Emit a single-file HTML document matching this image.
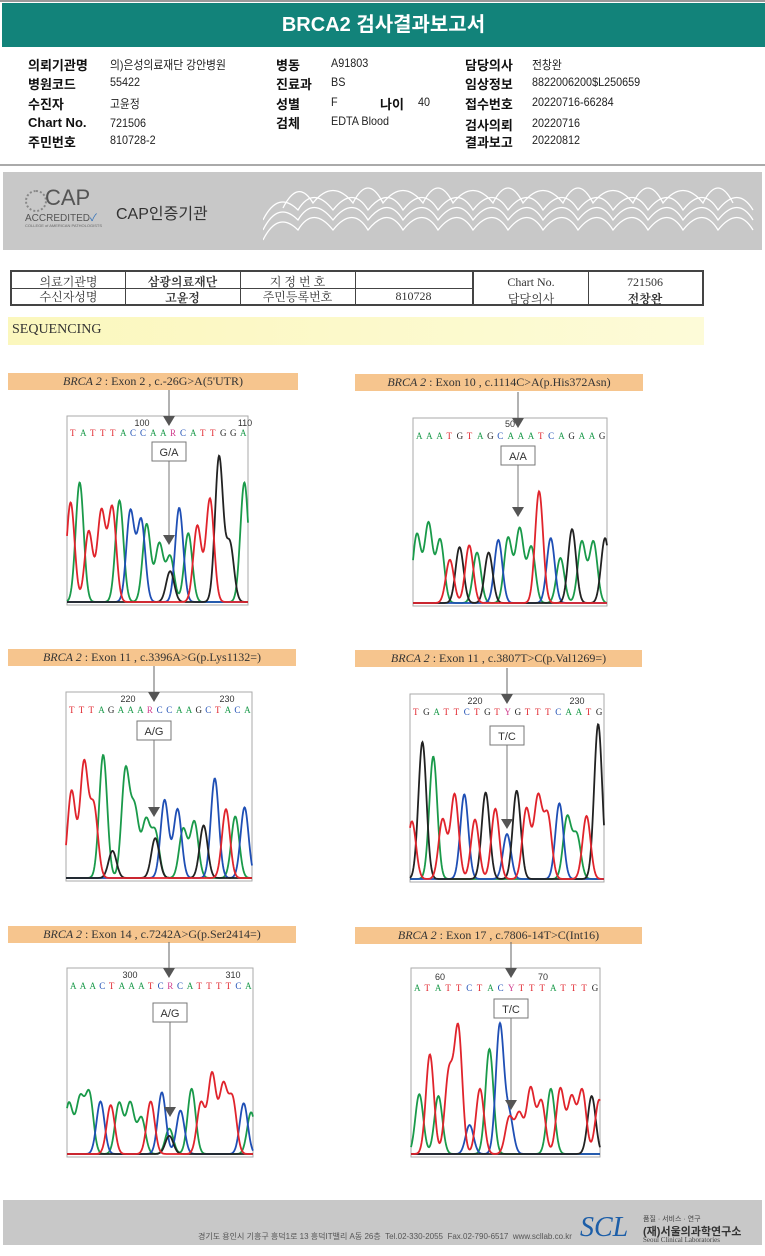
<!DOCTYPE html>
<html><head><meta charset="utf-8">
<style>
body{margin:0;width:765px;height:1256px;position:relative;background:#fff;font-family:"Liberation Sans","Noto Sans CJK KR",sans-serif;overflow:hidden}
.a{position:absolute;white-space:nowrap}
.lb{font-weight:bold;font-size:13px;color:#111}
.vl{font-size:12px;color:#222;transform:scaleX(.9);transform-origin:left}
.tb{position:absolute;left:10px;top:270px;width:690px;height:32px;border:2px solid #444;font-family:"Liberation Serif","Noto Serif CJK SC",serif;font-size:12px;color:#333}
.lab{position:absolute;height:17px;background:#f6c58e;font-family:"Liberation Serif",serif;font-size:12px;color:#333;text-align:center;line-height:17px}
</style></head><body>
<div class="a" style="left:0;top:0;width:765px;height:2px;background:#999"></div>
<div class="a" style="left:2px;top:3px;width:763px;height:44px;background:#12837a;color:#fff;font-weight:bold;font-size:20px;text-align:center;line-height:44px">BRCA2 검사결과보고서</div>

<div>
<div class="a lb" style="left:28px;top:55px">의뢰기관명</div><div class="a vl" style="left:110px;top:56px">의)은성의료재단 강안병원</div>
<div class="a lb" style="left:28px;top:74px">병원코드</div><div class="a vl" style="left:110px;top:75px">55422</div>
<div class="a lb" style="left:28px;top:94px">수진자</div><div class="a vl" style="left:110px;top:95px">고윤정</div>
<div class="a lb" style="left:28px;top:115px">Chart No.</div><div class="a vl" style="left:110px;top:116px">721506</div>
<div class="a lb" style="left:28px;top:132px">주민번호</div><div class="a vl" style="left:110px;top:133px">810728-2</div>
<div class="a lb" style="left:276px;top:55px">병동</div><div class="a vl" style="left:331px;top:56px">A91803</div>
<div class="a lb" style="left:276px;top:74px">진료과</div><div class="a vl" style="left:331px;top:75px">BS</div>
<div class="a lb" style="left:276px;top:94px">성별</div><div class="a vl" style="left:331px;top:95px">F</div>
<div class="a lb" style="left:380px;top:94px">나이</div><div class="a vl" style="left:418px;top:95px">40</div>
<div class="a lb" style="left:276px;top:113px">검체</div><div class="a vl" style="left:331px;top:114px">EDTA Blood</div>
<div class="a lb" style="left:465px;top:55px">담당의사</div><div class="a vl" style="left:532px;top:56px">전창완</div>
<div class="a lb" style="left:465px;top:74px">임상정보</div><div class="a vl" style="left:532px;top:75px">8822006200$L250659</div>
<div class="a lb" style="left:465px;top:94px">접수번호</div><div class="a vl" style="left:532px;top:95px">20220716-66284</div>
<div class="a lb" style="left:465px;top:115px">검사의뢰</div><div class="a vl" style="left:532px;top:116px">20220716</div>
<div class="a lb" style="left:465px;top:132px">결과보고</div><div class="a vl" style="left:532px;top:133px">20220812</div>
</div>

<div class="a" style="left:0;top:164px;width:765px;height:2px;background:#aaa"></div>
<div class="a" style="left:3px;top:172px;width:759px;height:78px;background:#c8c8c8">
  <div class="a" style="left:22px;top:18px;width:18px;height:18px;border:2px dotted #888;border-radius:50%"></div>
  <div class="a" style="left:42px;top:13px;font-size:22px;color:#555">CAP</div>
  <div class="a" style="left:22px;top:37px;font-size:10px;color:#555">ACCREDITED<span style="color:#2a6db8">✓</span></div>
  <div class="a" style="left:22px;top:51px;font-size:4px;color:#666">COLLEGE of AMERICAN PATHOLOGISTS</div>
  <div class="a" style="left:113px;top:28px;font-size:16px;color:#333">CAP인증기관</div>
  <svg class="a" style="left:260px;top:8px" width="495" height="62">
    <g fill="none" stroke="#fff" stroke-width="1.3">
      <path d="M0 40 q15-30 35-10 q15-25 35 0 q20-25 35 0 q20-25 35 0 q20-25 35 0 q20-25 35 0 q20-25 35 0 q20-25 35 0 q20-25 35 0 q20-25 35 0 q20-25 35 0 q20-25 35 0 q20-25 35 0 q20-25 35 0"/>
      <path d="M0 50 q15-30 35-10 q15-25 35 0 q20-25 35 0 q20-25 35 0 q20-25 35 0 q20-25 35 0 q20-25 35 0 q20-25 35 0 q20-25 35 0 q20-25 35 0 q20-25 35 0 q20-25 35 0 q20-25 35 0 q20-25 35 0"/>
      <path d="M0 60 q15-30 35-10 q15-25 35 0 q20-25 35 0 q20-25 35 0 q20-25 35 0 q20-25 35 0 q20-25 35 0 q20-25 35 0 q20-25 35 0 q20-25 35 0 q20-25 35 0 q20-25 35 0 q20-25 35 0 q20-25 35 0"/>
      <path d="M20 28 q15-30 30-5 q20-25 40 0 q15-30 30 0 q20-25 40 0 q15-30 30 0 q20-25 40 0 q15-30 30 0 q20-25 40 0 q15-30 30 0 q20-25 40 0 q15-30 30 0 q20-25 40 0 q15-30 30 0"/>
    </g>
  </svg>
</div>

<div class="tb">
  <div class="a" style="left:113px;top:0;width:1px;height:32px;background:#444"></div>
  <div class="a" style="left:228px;top:0;width:1px;height:32px;background:#444"></div>
  <div class="a" style="left:343px;top:0;width:1px;height:32px;background:#444"></div>
  <div class="a" style="left:460px;top:0;width:2px;height:32px;background:#444"></div>
  <div class="a" style="left:576px;top:0;width:1px;height:32px;background:#444"></div>
  <div class="a" style="left:0;top:16px;width:460px;height:1px;background:#444"></div>
  <div class="a" style="left:0;top:1px;width:113px;text-align:center">의료기관명</div>
  <div class="a" style="left:113px;top:1px;width:115px;text-align:center;font-weight:bold">삼광의료재단</div>
  <div class="a" style="left:228px;top:1px;width:115px;text-align:center">지 정 번 호</div>
  <div class="a" style="left:0;top:16px;width:113px;text-align:center">수신자성명</div>
  <div class="a" style="left:113px;top:17px;width:115px;text-align:center;font-weight:bold">고윤정</div>
  <div class="a" style="left:228px;top:16px;width:115px;text-align:center">주민등록번호</div>
  <div class="a" style="left:343px;top:17px;width:117px;text-align:center">810728</div>
  <div class="a" style="left:462px;top:3px;width:114px;text-align:center">Chart No.</div>
  <div class="a" style="left:576px;top:3px;width:114px;text-align:center">721506</div>
  <div class="a" style="left:462px;top:18px;width:114px;text-align:center">담당의사</div>
  <div class="a" style="left:576px;top:18px;width:114px;text-align:center;font-weight:bold">전창완</div>
</div>

<div class="a" style="left:8px;top:317px;width:692px;height:28px;background:linear-gradient(90deg,#fbf7bd,#fdfbd8);font-family:'Liberation Serif',serif;font-size:14px;color:#333;line-height:26px;padding-left:4px">SEQUENCING</div>

<div class="lab" style="left:8px;top:373px;width:290px"><i>BRCA 2</i> : Exon 2 , c.-26G&gt;A(5'UTR)</div>
<div class="lab" style="left:355px;top:374px;width:288px"><i>BRCA 2</i> : Exon 10 , c.1114C&gt;A(p.His372Asn)</div>
<div class="lab" style="left:8px;top:649px;width:288px"><i>BRCA 2</i> : Exon 11 , c.3396A&gt;G(p.Lys1132=)</div>
<div class="lab" style="left:355px;top:650px;width:287px"><i>BRCA 2</i> : Exon 11 , c.3807T&gt;C(p.Val1269=)</div>
<div class="lab" style="left:8px;top:926px;width:288px"><i>BRCA 2</i> : Exon 14 , c.7242A&gt;G(p.Ser2414=)</div>
<div class="lab" style="left:355px;top:927px;width:287px"><i>BRCA 2</i> : Exon 17 , c.7806-14T&gt;C(Int16)</div>

<svg id="ch" class="a" style="left:0;top:0" width="765" height="1256"></svg>

<div class="a" style="left:3px;top:1200px;width:759px;height:45px;background:#c8c8c8">
  <div class="a" style="left:195px;top:31px;font-size:8px;color:#555">경기도 용인시 기흥구 흥덕1로 13 흥덕IT밸리 A동 26층 &nbsp;Tel.02-330-2055 &nbsp;Fax.02-790-6517 &nbsp;www.scllab.co.kr</div>
  <div class="a" style="left:577px;top:12px;font-family:'Liberation Serif',serif;font-style:italic;font-size:28px;color:#1c5ea8">SCL</div>
  <div class="a" style="left:640px;top:14px;font-size:7px;color:#444">품질 · 서비스 · 연구</div>
  <div class="a" style="left:640px;top:23px;font-size:11px;font-weight:bold;color:#333">(재)서울의과학연구소</div>
  <div class="a" style="left:640px;top:36px;font-family:'Liberation Serif',serif;font-size:7px;color:#444">Seoul Clinical Laboratories</div>
</div>

<script>
// Panel 1: Exon 2
const p1Pos=[0.02,0.07,0.12,0.19,0.25,0.29,0.35,0.41,0.44,0.51,0.57,0.57,0.62,0.67,0.72,0.79,0.84,0.9,0.98];
const p1H=[0.55,0.66,0.39,0.5,0.52,0.56,0.5,0.45,0.43,0.32,0.25,0.17,0.52,0.38,0.42,0.57,0.8,0.32,0.66];
const p1Base=["T","A","T","T","T","A","C","C","A","A","A","G","C","A","T","T","G","G","A"];
// Panel 2: Exon 10
const p2Pos=[0.02,0.08,0.14,0.19,0.24,0.29,0.33,0.39,0.44,0.49,0.55,0.61,0.65,0.71,0.76,0.82,0.87,0.93,0.99];
const p2H=[0.38,0.44,0.35,0.24,0.31,0.32,0.28,0.28,0.35,0.36,0.41,0.31,0.62,0.36,0.25,0.41,0.34,0.34,0.36];
const p2Base=["A","A","A","T","G","T","A","G","C","A","A","A","T","C","A","G","A","A","G"];
// Panel 3: Exon 11 c.3396
const p3Pos=[0.03,0.097,0.15,0.2,0.25,0.32,0.37,0.43,0.48,0.48,0.53,0.6,0.63,0.69,0.74,0.8,0.86,0.91,0.96];
const p3H=[0.48,0.63,0.39,0.68,0.15,0.59,0.37,0.31,0.25,0.22,0.43,0.38,0.27,0.31,0.29,0.55,0.38,0.34,0.39];
const p3Base=["T","T","T","A","G","A","A","A","A","G","C","C","A","A","G","C","T","A","C"];
// Panel 4: Exon 11 c.3807
const p4Pos=[0.01,0.064,0.12,0.168,0.23,0.28,0.335,0.39,0.44,0.5,0.55,0.6,0.66,0.71,0.77,0.81,0.86,0.91,0.97];
const p4H=[0.32,0.76,0.68,0.33,0.47,0.47,0.33,0.48,0.39,0.25,0.49,0.39,0.45,0.35,0.42,0.34,0.24,0.35,0.86];
const p4Base=["T","G","A","T","T","C","T","G","T","C","G","T","T","T","C","A","A","T","G"];
// Panel 5: Exon 14
const p5Pos=[0.01,0.07,0.12,0.18,0.235,0.28,0.34,0.4,0.45,0.51,0.55,0.55,0.61,0.67,0.72,0.78,0.84,0.89,0.95,0.99];
const p5H=[0.28,0.3,0.33,0.29,0.27,0.28,0.28,0.2,0.29,0.34,0.14,0.1,0.24,0.36,0.28,0.44,0.37,0.3,0.28,0.23];
const p5Base=["A","A","A","C","T","A","A","A","T","C","A","G","C","A","T","T","T","T","C","A"];
// Panel 6: Exon 17
const p6Pos=[0.044,0.1,0.145,0.2,0.25,0.31,0.365,0.415,0.47,0.52,0.52,0.573,0.633,0.69,0.74,0.79,0.85,0.906,0.956,0.996];
const p6H=[0.33,0.55,0.32,0.44,0.69,0.16,0.36,0.58,0.71,0.21,0.2,0.22,0.36,0.29,0.36,0.36,0.31,0.35,0.32,0.3];
const p6Base=["A","T","A","T","T","C","T","A","C","C","T","T","T","T","A","T","T","T","G","T"];

const seqs=["TATTTACCAARCATTGGA","AAATGTAGCAAATCAGAAG","TTTAGAAARCCAAGCTACA","TGATTCTGTYGTTTCAATG","AAACTAAATCRCATTTTCA","ATATTCTACYTTTATTTG"];
const calls=["G/A","A/A","A/G","T/C","A/G","T/C"];
const nums=[["100","110"],["50"],["220","230"],["220","230"],["300","310"],["60","70"]];

const NS="http://www.w3.org/2000/svg";
const svg=document.getElementById('ch');
const COL={A:"#1a9a4a",C:"#1f4fb5",G:"#222",T:"#e0242c",R:"#d03c8c",Y:"#d03c8c"};
function mk(t,a,p){const e=document.createElementNS(NS,t);for(const k in a)e.setAttribute(k,a[k]);(p||svg).appendChild(e);return e;}

const panels=[
 {pos:p1Pos,h:p1H,b:p1Base,x:67,y:416,w:181,hh:189,ax:169,box:[152,442],tip:545,numX:[142,245],numY:426,seqY:436},
 {pos:p2Pos,h:p2H,b:p2Base,x:413,y:418,w:194,hh:188,ax:518,box:[501,446],tip:517,numX:[510],numY:427,seqY:439},
 {pos:p3Pos,h:p3H,b:p3Base,x:66,y:692,w:186,hh:189,ax:154,box:[137,721],tip:817,numX:[128,227],numY:702,seqY:713},
 {pos:p4Pos,h:p4H,b:p4Base,x:410,y:694,w:194,hh:188,ax:507,box:[490,726],tip:829,numX:[475,577],numY:704,seqY:715},
 {pos:p5Pos,h:p5H,b:p5Base,x:67,y:968,w:186,hh:189,ax:169,box:[153,1003],tip:1117,numX:[130,233],numY:978,seqY:989},
 {pos:p6Pos,h:p6H,b:p6Base,x:411,y:968,w:189,hh:189,ax:511,box:[494,999],tip:1110,numX:[440,543],numY:980,seqY:991}
];

panels.forEach((P,i)=>{
  const g=mk('g',{});
  
  
  const fr=mk('rect',{x:P.x,y:P.y,width:P.w,height:P.hh,fill:'none',stroke:'#aaa','stroke-width':1},g);
  
  
  const base=P.y+P.hh-3, scaleY=v=>base-v*(P.hh-8), scaleX=f=>P.x+f*P.w;
  const sig=4.0;
  ["A","C","G","T"].forEach(c=>{
    let d="";
    for(let px=0;px<=P.w;px+=0.5){
      let v=0;
      P.pos.forEach((p,k)=>{ if(P.b[k]===c){const dx=(P.x+px)-scaleX(p);v+=P.h[k]*Math.exp(-dx*dx/(2*sig*sig));}});
      d+=(px?"L":"M")+(P.x+px).toFixed(1)+" "+scaleY(v).toFixed(1);
    }
    const tr=mk('path',{d:d,fill:'none',stroke:COL[c],'stroke-width':1.8},g);
    
    
  });
  const s=seqs[i];
  for(let k=0;k<s.length;k++){
    const t=mk('text',{x:P.x+3+k*(P.w-6)/(s.length-0.5),y:P.seqY,fill:COL[s[k]],'font-size':9,'font-family':'Liberation Serif, serif'},g);
    t.textContent=s[k];
    
    
  }
  nums[i].forEach((n,k)=>{
    const t=mk('text',{x:P.numX[k],y:P.numY,fill:'#333','font-size':9,'text-anchor':'middle','font-family':'Liberation Sans, sans-serif'},g);
    t.textContent=n;
    
    
  });
  const topY=P.y-26;
  mk('line',{x1:P.ax,y1:topY,x2:P.ax,y2:P.y,stroke:'#666','stroke-width':1},g);
  const ta=mk('path',{d:`M${P.ax-6} ${P.y} L${P.ax+6} ${P.y} L${P.ax} ${P.y+10}Z`,fill:'#555'},g);
  
  
  const bx=P.box[0],by=P.box[1];
  const br=mk('rect',{x:bx,y:by,width:34,height:19,fill:'#fff',stroke:'#777'},g);
  
  
  const bt=mk('text',{x:bx+17,y:by+14,'text-anchor':'middle','font-size':11,fill:'#333','font-family':'Liberation Sans, sans-serif'},g);
  bt.textContent=calls[i];
  mk('line',{x1:bx+17,y1:by+19,x2:bx+17,y2:P.tip-10,stroke:'#777'},g);
  mk('path',{d:`M${bx+11} ${P.tip-10} L${bx+23} ${P.tip-10} L${bx+17} ${P.tip}Z`,fill:'#555'},g);
});
</script>
</body></html>
